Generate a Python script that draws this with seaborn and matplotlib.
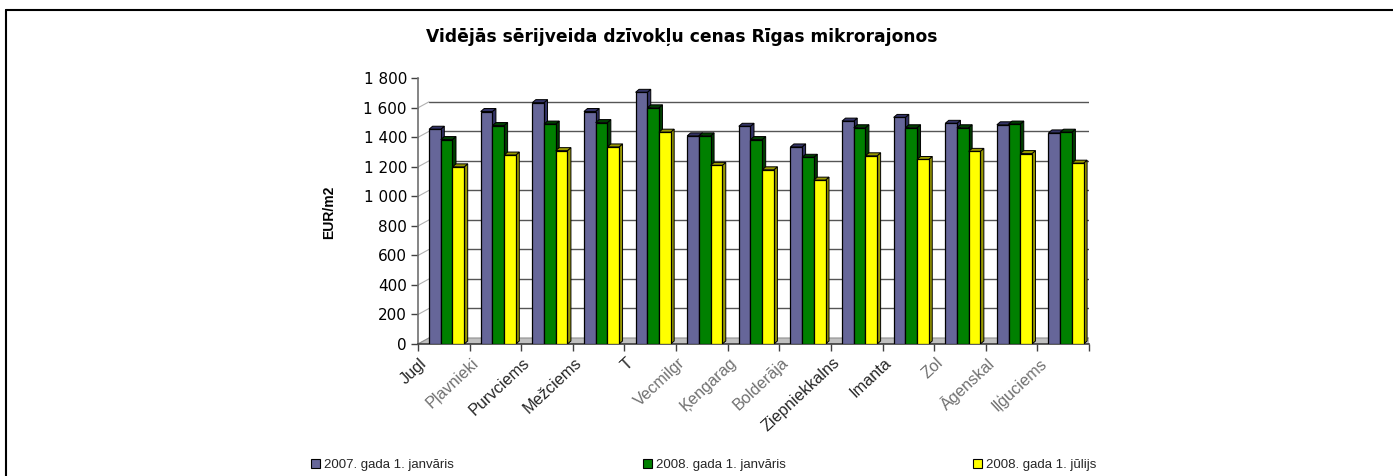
import numpy as np
import pandas as pd
import seaborn as sns
import matplotlib
matplotlib.use("Agg")
import matplotlib.pyplot as plt
from matplotlib.patches import Polygon, Patch, Rectangle
from matplotlib.lines import Line2D
from matplotlib.transforms import IdentityTransform, ScaledTranslation

# ---------------- data ----------------
categories = ["Jugl", "Pļavnieki", "Purvciems", "Mežciems", "T", "Vecmilgr",
              "Ķengarag", "Bolderāja", "Ziepniekkalns", "Imanta", "Zol",
              "Āgenskal", "Iļģuciems"]
faded = ["Pļavnieki", "Vecmilgr", "Ķengarag", "Bolderāja", "Zol", "Āgenskal", "Iļģuciems"]
series_names = ["2007. gada 1. janvāris", "2008. gada 1. janvāris", "2008. gada 1. jūlijs"]
v_2007_jan = [1455, 1575, 1635, 1575, 1705, 1410, 1475, 1335, 1510, 1535, 1495, 1485, 1430]
v_2008_jan = [1385, 1480, 1490, 1500, 1600, 1410, 1385, 1265, 1465, 1465, 1465, 1490, 1435]
v_2008_jul = [1200, 1280, 1310, 1335, 1435, 1210, 1180, 1110, 1275, 1250, 1305, 1290, 1225]
y_ticks = [0, 200, 400, 600, 800, 1000, 1200, 1400, 1600, 1800]
y_ticklabels = ["0", "200", "400", "600", "800", "1 000", "1 200", "1 400", "1 600", "1 800"]
title = "Vidējās sērijveida dzīvokļu cenas Rīgas mikrorajonos"
ylabel = "EUR/m2"

front_colors = ["#666699", "#008000", "#FFFF00"]
side_colors = ["#333366", "#004000", "#999900"]

df = pd.DataFrame({
    "rajons": categories * 3,
    "serija": sum([[s] * len(categories) for s in series_names], []),
    "cena": v_2007_jan + v_2008_jan + v_2008_jul,
})

# ---------------- figure ----------------
sns.set_theme(style="white")
plt.rcParams["font.family"] = ["Liberation Sans", "DejaVu Sans"]

W, H = 1393, 476
fig = plt.figure(figsize=(W / 100, H / 100), dpi=100)
ax_l, ax_r, ax_t, ax_b = 418, 1089, 78.3, 344
ax = fig.add_axes([ax_l / W, 1 - ax_b / H, (ax_r - ax_l) / W, (ax_b - ax_t) / H])

sns.barplot(data=df, x="rajons", y="cena", hue="serija", order=categories,
            hue_order=series_names, palette=front_colors, saturation=1,
            width=0.68, edgecolor="black", linewidth=0.9, legend=False, ax=ax)
bars = [p for p in ax.patches if isinstance(p, Rectangle)]

shift = 0.055
ax.set_xlim(-0.5 - shift, len(categories) - 0.5 - shift)
ax.set_ylim(0, 1800)
ax.set_xlabel("")
ax.set_ylabel("")

for s in ["top", "right"]:
    ax.spines[s].set_visible(False)
ax.spines["left"].set_color("#707070")
ax.spines["bottom"].set_color("#404040")
ax.spines["left"].set_linewidth(1.2)
ax.spines["bottom"].set_linewidth(1.2)
ax.grid(False)
ax.set_facecolor("none")

ax.set_yticks(y_ticks)
ax.set_yticklabels(y_ticklabels, fontsize=11, color="black", family=["DejaVu Sans"])
ax.tick_params(axis="y", which="major", direction="out", length=5, width=1,
               color="#404040", pad=3, left=True)

ax.set_xticks(np.arange(len(categories)))
ax.set_xticklabels(categories, fontsize=11.7, rotation=43, ha="right",
                   va="center", rotation_mode="anchor")
ax.set_xticks(np.arange(len(categories) + 1) - 0.5 - shift, minor=True)
ax.tick_params(axis="x", which="major", length=0, pad=12)
ax.tick_params(axis="x", which="minor", direction="out", length=5, width=1,
               color="#404040", bottom=True)
for lab in ax.get_xticklabels():
    lab.set_transform(lab.get_transform() + ScaledTranslation(-0.22, 0, fig.dpi_scale_trans))
    if lab.get_text() in faded:
        lab.set_color("#707070")

# ---------------- 3D decoration (derived from axes scale & bar patches) ----------------
fig.canvas.draw()
td = ax.transData
DX, DY = 11, 6          # wall depth in pixels
bdx, bdy = 3.5, 3       # bar depth in pixels
x0d, x1d = ax.get_xlim()

# floor
p0 = td.transform((x0d, 0)); p1 = td.transform((x1d, 0))
floor = Polygon([p0, p1, p1 + [DX, DY], p0 + [DX, DY]], closed=True,
                facecolor="#c0c0c0", edgecolor="#909090", lw=0.8,
                transform=IdentityTransform(), zorder=0.5)
ax.add_artist(floor)
ax.add_artist(Line2D([p1[0], p1[0] + DX], [p1[1], p1[1] + DY], color="#404040",
                     lw=1, transform=IdentityTransform(), zorder=0.6))

# back wall gridlines & left wall diagonals
for v in y_ticks[1:]:
    a = td.transform((x0d, v)); b = td.transform((x1d, v))
    col = "#c8c8c8" if v == y_ticks[-1] else "#555555"
    ax.add_artist(Line2D([a[0] + DX, b[0] + DX], [a[1] + DY, b[1] + DY], color=col,
                         lw=1, transform=IdentityTransform(), zorder=0.4))
    ax.add_artist(Line2D([a[0], a[0] + DX], [a[1], a[1] + DY], color="#b0b0b0",
                         lw=0.8, transform=IdentityTransform(), zorder=0.4))
a = td.transform((x0d, 0))
ax.add_artist(Line2D([a[0], a[0] + DX], [a[1], a[1] + DY], color="#b0b0b0",
                     lw=0.8, transform=IdentityTransform(), zorder=0.4))

# bar side & top faces
col_index = {matplotlib.colors.to_hex(c).lower(): i for i, c in enumerate(front_colors)}
for p in bars:
    fc = matplotlib.colors.to_hex(p.get_facecolor()).lower()
    i = col_index.get(fc, 0)
    x, w, h = p.get_x(), p.get_width(), p.get_height()
    br = td.transform((x + w, 0))
    tl = td.transform((x, h)); tr = td.transform((x + w, h))
    off = np.array([bdx, bdy])
    side = Polygon([br, tr, tr + off, br + off], closed=True, facecolor=side_colors[i],
                   edgecolor="black", lw=0.7, transform=IdentityTransform(), zorder=2 + 2 * i)
    top = Polygon([tl, tr, tr + off, tl + off], closed=True, facecolor=side_colors[i],
                  edgecolor="black", lw=0.7, transform=IdentityTransform(), zorder=2 + 2 * i)
    ax.add_artist(side)
    ax.add_artist(top)
    p.set_zorder(3 + 2 * i)

# ---------------- texts ----------------
fig.text(682 / W, 1 - 37 / H, title, ha="center", va="center", fontsize=12.3,
         fontweight="bold", color="black", family=["DejaVu Sans"])
fig.text(329 / W, 1 - 212 / H, ylabel, ha="center", va="center", rotation=90,
         fontsize=10, fontweight="bold", color="black")

# legend
leg_x = [311, 643, 973]
for name, col, lx in zip(series_names, front_colors, leg_x):
    h = Patch(facecolor=col, edgecolor="black", lw=0.8)
    fig.legend(handles=[h], labels=[name], loc="center left",
               bbox_to_anchor=(lx / W, 1 - 465 / H), frameon=False, borderpad=0,
               borderaxespad=0, handlelength=0.7, handleheight=0.7,
               handletextpad=0.25,
               prop={"family": ["Liberation Sans"], "size": 9.5})

# chart frame (top and left edges visible)
fig.add_artist(Line2D([6 / W, 1.0], [1 - 10 / H, 1 - 10 / H], color="black", lw=1.5,
                      transform=fig.transFigure))
fig.add_artist(Line2D([6 / W, 6 / W], [1 - 10 / H, 0], color="black", lw=1.5,
                      transform=fig.transFigure))

fig.savefig("out.png", dpi=100, facecolor="white")
